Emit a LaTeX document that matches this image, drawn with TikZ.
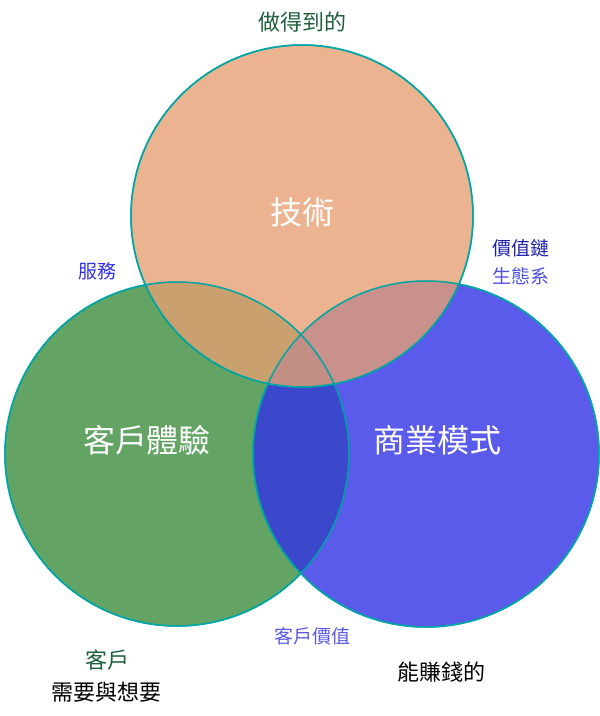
\documentclass[tikz,border=0pt]{standalone}
\usepackage{fontspec}
\setmainfont{Noto Sans CJK TC}
\begin{document}
\begin{tikzpicture}[x=1pt,y=-1pt,
		circ/.style={draw=teal!70!cyan, line width=1.5pt, fill opacity=0.8},
		big/.style={text=white, font=\fontsize{32}{36}\selectfont},
		small/.style={font=\fontsize{19}{22}\selectfont}]
		\useasboundingbox (0,0) rectangle (600,716);
		\fill[circ, fill={rgb,255:red,60;green,140;blue,60}] (177,454) circle (172);
		\fill[circ, fill={rgb,255:red,50;green,50;blue,230}] (426,454) circle (173);
		\fill[circ, fill={rgb,255:red,230;green,160;blue,115}] (302,216) circle (171);
		\draw[circ, fill opacity=0] (177,454) circle (172) (426,454) circle (173) (302,216) circle (171);
		\node[big] (tech) at (302,212) {技術};
		\node[big] (cx) at (147,440) {客戶體驗};
		\node[big] (biz) at (437,440) {商業模式};
		\node[small, text={rgb,255:red,30;green,95;blue,60}, font=\fontsize{22}{26}\selectfont] (can) at (302,22) {做得到的};
		\node[small, text={rgb,255:red,50;green,50;blue,230}] (svc) at (97,271) {服務};
		\node[small, text={rgb,255:red,30;green,30;blue,170}] (chain) at (521,248) {價值鏈};
		\node[small, text={rgb,255:red,80;green,80;blue,230}] (eco) at (521,276) {生態系};
		\node[small, text={rgb,255:red,90;green,90;blue,230}] (val) at (312,636) {客戶價值};
		\node[small, text={rgb,255:red,30;green,95;blue,60}, font=\fontsize{22}{26}\selectfont] (cust) at (107,660) {客戶};
		\node[small, font=\fontsize{22}{26}\selectfont] (need) at (107,692) {需要與想要};
		\node[small, font=\fontsize{22}{26}\selectfont] (earn) at (441,672) {能賺錢的};
\end{tikzpicture}
\end{document}
